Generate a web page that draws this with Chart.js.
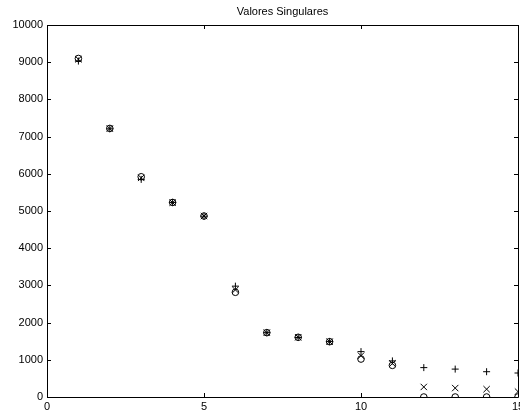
<!DOCTYPE html>
<html>
<head>
<meta charset="utf-8">
<script src="https://cdn.jsdelivr.net/npm/chart.js@4"></script>
<style>
html,body{margin:0;padding:0;background:#fff;}
#wrap{width:520px;height:419px;position:relative;}
</style>
</head>
<body>
<div id="wrap"><canvas id="c" width="520" height="419"></canvas></div>
<script>
const indices = [1,2,3,4,5,6,7,8,9,10,11,12,13,14,15];
const plusValues   = [9030,7210,5850,5230,4860,2980,1730,1600,1490,1220,970,790,750,680,645];
const crossValues  = [9080,7215,5890,5225,4865,2880,1730,1605,1488,1110,900,270,240,210,145];
const circleValues = [9100,7220,5920,5230,4865,2815,1730,1605,1487,1020,850,0,0,0,0];
const xTicks = [0,5,10,15];
const yTicks = [0,1000,2000,3000,4000,5000,6000,7000,8000,9000,10000];
const titleText = 'Valores Singulares';

const toPts = vals => indices.map((x,i)=>({x:x,y:vals[i]}));
const FONT = '"Liberation Sans", Arial, sans-serif';

const framePlugin = {
  id:'frame',
  afterDraw(chart){
    const ctx = chart.ctx, a = chart.chartArea;
    const xs = chart.scales.x, ys = chart.scales.y;
    ctx.save();
    ctx.strokeStyle = '#000';
    ctx.lineWidth = 1;
    ctx.beginPath();
    ctx.rect(Math.round(a.left)+0.5, Math.round(a.top)+0.5, Math.round(a.right-a.left), Math.round(a.bottom-a.top));
    ctx.stroke();
    const L = 4;
    ctx.beginPath();
    xTicks.forEach(v=>{
      const px = Math.round(xs.getPixelForValue(v))+0.5;
      ctx.moveTo(px,a.bottom); ctx.lineTo(px,a.bottom-L);
      ctx.moveTo(px,a.top); ctx.lineTo(px,a.top+L);
    });
    yTicks.forEach(v=>{
      const py = Math.round(ys.getPixelForValue(v))+0.5;
      ctx.moveTo(a.left,py); ctx.lineTo(a.left+L,py);
      ctx.moveTo(a.right,py); ctx.lineTo(a.right-L,py);
    });
    ctx.stroke();
    ctx.fillStyle = '#000';
    ctx.font = '11px ' + FONT;
    ctx.textAlign = 'center';
    ctx.textBaseline = 'alphabetic';
    ctx.fillText(titleText, (a.left+a.right)/2, 15);
    ctx.restore();
  }
};

const ds = (label, vals, style, r) => ({
  label, data: toPts(vals), pointStyle: style,
  borderColor:'#000', backgroundColor:'rgba(0,0,0,0)',
  pointBorderColor:'#000', pointBackgroundColor:'rgba(0,0,0,0)',
  pointRadius: r, pointBorderWidth: 1, showLine:false
});

new Chart(document.getElementById('c'), {
  type:'scatter',
  data:{ datasets:[
    ds('plus', plusValues, 'cross', 3.5),
    ds('cross', crossValues, 'crossRot', 4.5),
    ds('circle', circleValues, 'circle', 3.3)
  ]},
  options:{
    responsive:false, animation:false,
    layout:{autoPadding:false, padding:{top:25,right:2,left:0,bottom:0}},
    plugins:{legend:{display:false}, tooltip:{enabled:false}, title:{display:false}},
    scales:{
      x:{type:'linear', min:0, max:15,
        afterBuildTicks(s){ s.ticks = xTicks.map(v=>({value:v})); },
        afterFit(s){ s.height = 22; s.paddingRight = 0; s.paddingLeft = 0; },
        grid:{display:false, drawTicks:false}, border:{display:false},
        ticks:{color:'#000', font:{size:11, family:FONT}, padding:3, maxRotation:0, autoSkip:false,
          callback:v=>String(v)}
      },
      y:{type:'linear', min:0, max:10000,
        afterBuildTicks(s){ s.ticks = yTicks.map(v=>({value:v})); },
        afterFit(s){ s.width = 47; s.paddingTop = 0; s.paddingBottom = 0; },
        grid:{display:false, drawTicks:false}, border:{display:false},
        ticks:{color:'#000', font:{size:11, family:FONT}, padding:4, autoSkip:false,
          callback:v=>String(v)}
      }
    }
  },
  plugins:[framePlugin]
});
</script>
</body>
</html>
